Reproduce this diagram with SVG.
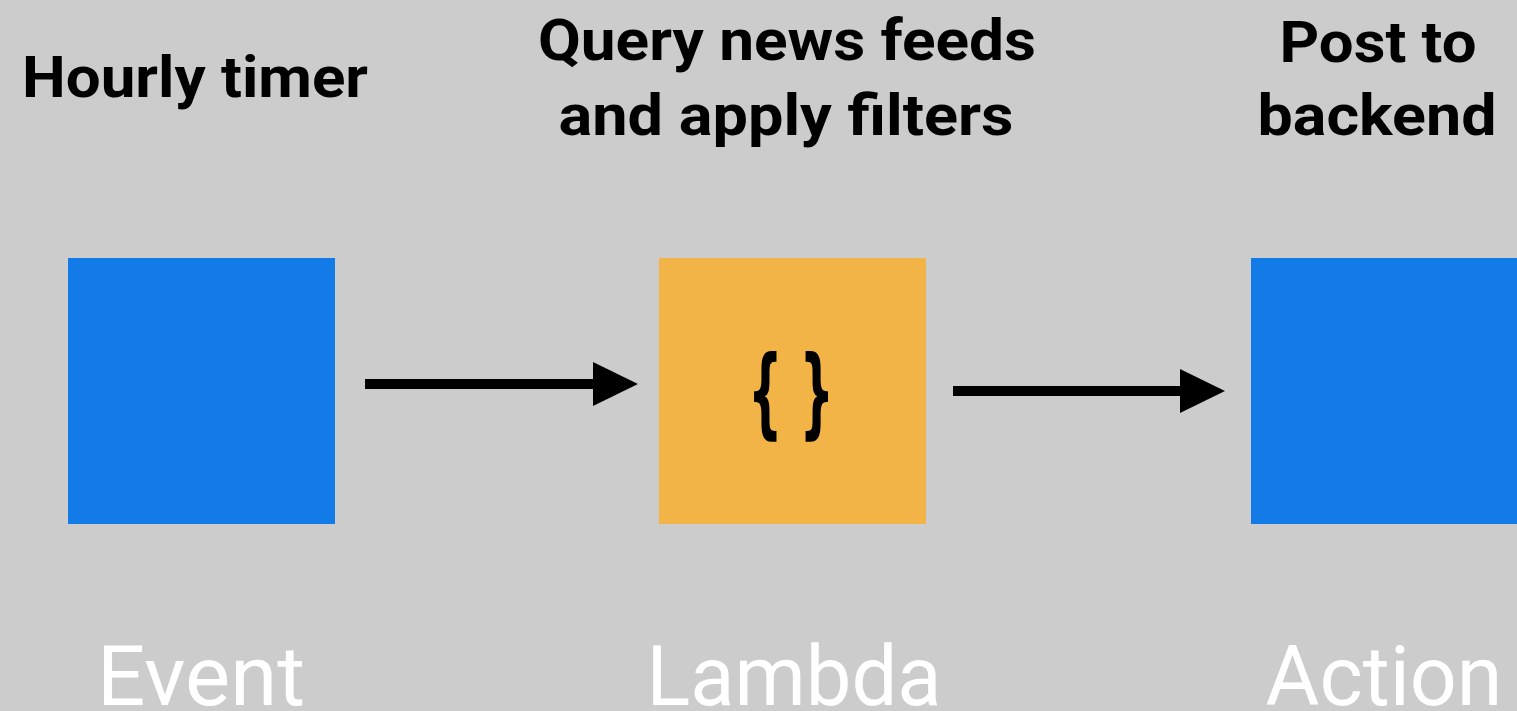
<svg xmlns="http://www.w3.org/2000/svg" width="1517" height="711" viewBox="0 0 1517 711">
<style>
.t{font-family:Roboto,"Liberation Sans",sans-serif;font-weight:700;font-size:58px;fill:#000;text-anchor:middle}
.b{font-family:Roboto,"Liberation Sans",sans-serif;font-weight:400;font-size:84px;fill:#fff;text-anchor:middle}
.blue{fill:#137be8}
.orange{fill:#f2b347}
.conn{stroke:#000;stroke-width:10;fill:none}
</style>
<defs>
<marker id="ah" markerUnits="userSpaceOnUse" markerWidth="46" markerHeight="46" refX="0" refY="22" orient="auto" viewBox="0 0 46 46">
<path d="M0,0 L45,22 L0,44 Z" fill="#000"/>
</marker>
</defs>
<rect width="1517" height="711" fill="#cccccc"/>
<g id="event">
<text class="t" x="195" y="97" textLength="346" lengthAdjust="spacingAndGlyphs">Hourly timer</text>
<rect class="blue" x="68" y="258" width="267" height="266"/>
<text class="b" x="201" y="705" textLength="208" lengthAdjust="spacingAndGlyphs">Event</text>
</g>
<g id="lambda">
<text class="t" x="787" y="60" textLength="498" lengthAdjust="spacingAndGlyphs">Query news feeds</text>
<text class="t" x="786" y="135" textLength="455" lengthAdjust="spacingAndGlyphs">and apply filters</text>
<rect class="orange" x="659" y="258" width="267" height="266"/>
<text x="791" y="426" font-family="'DejaVu Sans',sans-serif" font-weight="700" font-size="98" text-anchor="middle" fill="#000" textLength="86" lengthAdjust="spacingAndGlyphs">{ }</text>
<text class="b" x="794" y="705" textLength="295" lengthAdjust="spacingAndGlyphs">Lambda</text>
</g>
<g id="action">
<text class="t" x="1378" y="62" textLength="197" lengthAdjust="spacingAndGlyphs">Post to</text>
<text class="t" x="1377" y="135" textLength="239" lengthAdjust="spacingAndGlyphs">backend</text>
<rect class="blue" x="1251" y="258" width="270" height="266"/>
<text class="b" x="1384" y="705" textLength="237" lengthAdjust="spacingAndGlyphs">Action</text>
</g>
<g id="connectors">
<path class="conn" d="M365,384 L593,384" marker-end="url(#ah)"/>
<path class="conn" d="M953,391 L1180,391" marker-end="url(#ah)"/>
</g>
</svg>
